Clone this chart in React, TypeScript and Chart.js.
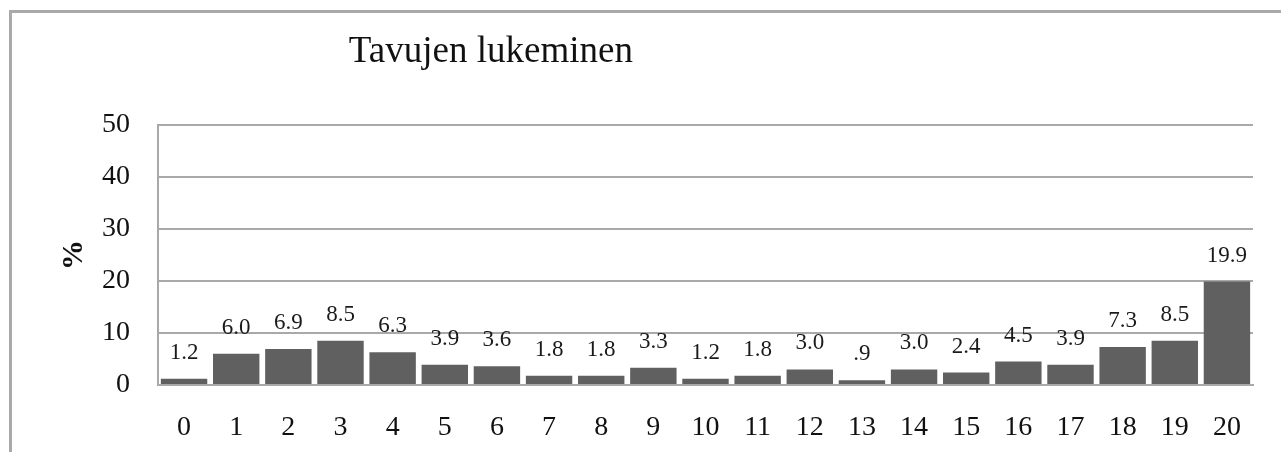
import React, { useEffect, useRef } from "react";
import { Chart, registerables } from "chart.js";

Chart.register(...registerables);

const TITLE = "Tavujen lukeminen";
const Y_TITLE = "%";
const categories = ["0","1","2","3","4","5","6","7","8","9","10","11","12","13","14","15","16","17","18","19","20"];
const values = [1.2, 6.0, 6.9, 8.5, 6.3, 3.9, 3.6, 1.8, 1.8, 3.3, 1.2, 1.8, 3.0, 0.9, 3.0, 2.4, 4.5, 3.9, 7.3, 8.5, 19.9];
const yMin = 0;
const yMax = 50;
const yStep = 10;

const FONT = "'Liberation Serif', 'Times New Roman', serif";
const GRID = "#a9a9a9";
const BAR = "#606060";

function fmt(v: number): string {
  const s = v.toFixed(1);
  return s.startsWith("0.") ? s.slice(1) : s;
}

const decorPlugin = {
  id: "decor",
  beforeDraw(chart: any) {
    const { ctx, chartArea } = chart;
    ctx.save();
    ctx.strokeStyle = GRID;
    ctx.lineWidth = 3;
    ctx.beginPath();
    ctx.moveTo(10.5, chart.height + 5);
    ctx.lineTo(10.5, 11.5);
    ctx.lineTo(chart.width + 5, 11.5);
    ctx.stroke();
    // title
    ctx.fillStyle = "#111";
    ctx.font = `37px ${FONT}`;
    ctx.textAlign = "center";
    ctx.textBaseline = "alphabetic";
    const cx = chartArea.left + chartArea.width * 0.304;
    ctx.fillText(TITLE, cx, chartArea.top - 63);
    ctx.restore();
  },
  afterDatasetsDraw(chart: any) {
    const { ctx } = chart;
    const meta = chart.getDatasetMeta(0);
    ctx.save();
    ctx.fillStyle = "#1a1a1a";
    ctx.font = `23px ${FONT}`;
    ctx.textAlign = "center";
    ctx.textBaseline = "alphabetic";
    meta.data.forEach((el: any, i: number) => {
      ctx.fillText(fmt(values[i]), el.x, el.y - 20);
    });
    ctx.restore();
  },
};

export default function App() {
  const ref = useRef<HTMLCanvasElement | null>(null);
  useEffect(() => {
    if (!ref.current) return;
    const chart = new Chart(ref.current, {
      type: "bar",
      data: {
        labels: categories,
        datasets: [
          {
            data: values,
            backgroundColor: BAR,
            borderWidth: 0,
            barPercentage: 0.89,
            categoryPercentage: 1.0,
          },
        ],
      },
      options: {
        responsive: false,
        animation: false,
        layout: { padding: { left: 56, top: 125, right: 28, bottom: 0 } },
        plugins: {
          legend: { display: false },
          tooltip: { enabled: false },
          title: { display: false },
        },
        scales: {
          x: {
            grid: { display: false, drawTicks: false },
            border: { display: true, color: GRID, width: 2 },
            ticks: {
              color: "#111",
              font: { family: FONT, size: 28 },
              padding: 26,
              maxRotation: 0,
              autoSkip: false,
            },
            afterFit(scale: any) {
              scale.height = 67;
            },
          },
          y: {
            min: yMin,
            max: yMax,
            grid: { color: GRID, lineWidth: 2, drawTicks: false },
            border: { display: true, color: GRID, width: 2 },
            ticks: {
              stepSize: yStep,
              color: "#111",
              font: { family: FONT, size: 28 },
              padding: 28,
            },
            title: {
              display: true,
              text: Y_TITLE,
              color: "#111",
              font: { family: FONT, size: 30, weight: "bold" },
              padding: 0,
            },
            afterFit(scale: any) {
              scale.width = 102;
            },
          },
        },
      },
      plugins: [decorPlugin],
    });
    return () => chart.destroy();
  }, []);
  return (
    <div style={{ position: "absolute", left: 0, top: 0, background: "#fff" }}>
      <canvas ref={ref} width={1281} height={452} style={{ display: "block" }} />
    </div>
  );
}
